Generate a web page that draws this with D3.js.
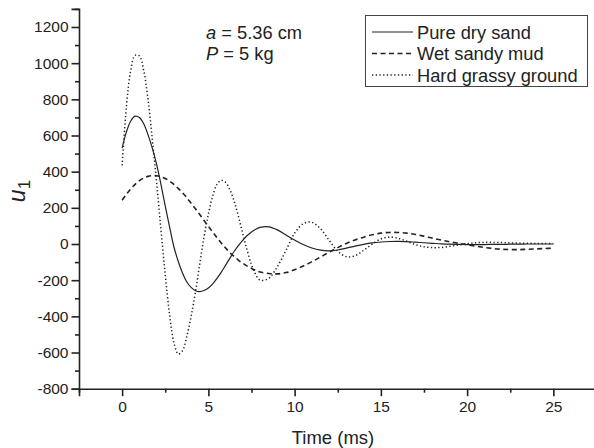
<!DOCTYPE html>
<html><head><meta charset="utf-8">
<script src="https://cdn.jsdelivr.net/npm/d3@7/dist/d3.min.js"></script>
<style>
body{margin:0;background:#fff;}
svg{display:block;font-family:"Liberation Sans",Arial,sans-serif;}
</style></head>
<body><svg id="c" width="594" height="448"></svg>
<script>
const time = [0,0.25,0.5,0.75,1,1.25,1.5,1.75,2,2.25,2.5,2.75,3,3.25,3.5,3.75,4,4.25,4.5,4.75,5,5.25,5.5,5.75,6,6.25,6.5,6.75,7,7.25,7.5,7.75,8,
  8.5,9,9.5,10,10.5,11,11.5,12,12.5,13,13.5,14,14.5,15,15.5,16,16.5,17,17.5,18,18.5,19,19.5,20,20.5,21,21.5,22,22.5,23,23.5,24,24.5,25];
const pureDrySand = [530,620,680,707,700,665,605,530,440,330,210,95,-15,-95,-160,-210,-240,-258,-263,-257,-243,-220,-190,-155,-117,-78,-40,-7,22,47,67,82,92,
  95,78,50,22,-3,-22,-34,-38,-33,-23,-12,-2,6,11,14,15,13,10,7,4,1,-1,-2,-3,-3,-3,-2,-2,-1,-1,0,0,0,0];
const wetSandyMud = [242,275,305,330,350,365,374,378,377,372,362,348,330,308,283,256,225,195,163,130,98,66,35,5,-22,-48,-70,-90,-107,-122,-135,-146,-155,
  -163,-165,-158,-142,-122,-98,-72,-45,-20,3,22,38,51,60,64,64,60,53,43,32,22,12,4,-4,-12,-19,-25,-29,-31,-31,-29,-27,-25,-23];
const hardGrassyGround = [435,760,960,1043,1040,960,800,580,340,80,-170,-390,-545,-608,-590,-510,-400,-265,-110,40,165,265,330,352,340,300,235,150,55,-35,-115,-170,-200,
  -190,-125,-35,60,112,120,85,20,-40,-70,-65,-35,0,28,38,32,15,-3,-15,-20,-19,-13,-5,2,7,9,9,8,6,5,4,3,3,3];
const seriesNames = ["Pure dry sand","Wet sandy mud","Hard grassy ground"];
const xMajor = [0,5,10,15,20,25];
const xMinor = [-2.5,2.5,7.5,12.5,17.5,22.5,27.5];
const yMajor = [-800,-600,-400,-200,0,200,400,600,800,1000,1200];
const yMinor = [-700,-500,-300,-100,100,300,500,700,900,1100,1300];

const svg = d3.select("#c");
const x = d3.scaleLinear().domain([-2.5,27.5]).range([79,596.5]);
const y = d3.scaleLinear().domain([-800,1300]).range([388.7,8.9]);
const ink = "#222";
const fmt = d => String(d);

// axes
const gx = svg.append("g").attr("transform","translate(0,388.7)");
gx.call(d3.axisBottom(x).tickValues(xMajor).tickSize(7.5).tickPadding(5).tickFormat(fmt));
const gxm = svg.append("g").attr("transform","translate(0,388.7)");
gxm.call(d3.axisBottom(x).tickValues(xMinor).tickSize(4).tickFormat(""));
const gy = svg.append("g").attr("transform","translate(79,0)");
gy.call(d3.axisLeft(y).tickValues(yMajor).tickSize(7.5).tickPadding(3).tickFormat(fmt));
const gym = svg.append("g").attr("transform","translate(79,0)");
gym.call(d3.axisLeft(y).tickValues(yMinor).tickSize(4).tickFormat(""));
[gx,gxm,gy,gym].forEach(g=>{
  g.selectAll("path.domain").attr("stroke",ink).attr("stroke-width",1.6);
  g.selectAll("line").attr("stroke",ink).attr("stroke-width",1.6);
  g.selectAll("text").attr("fill",ink).style("font-size","15.5px").style("font-family","'Liberation Sans',Arial,sans-serif");
});
gxm.select("path.domain").remove();
gym.select("path.domain").remove();

// lines
const styles = [
  {dash:null, w:1.2},
  {dash:"5,3.5", w:1.6},
  {dash:"1.3,2.4", w:1.5}
];
const allSeries = [pureDrySand, wetSandyMud, hardGrassyGround];
const line = d3.line().x((d,i)=>x(time[i])).y(d=>y(d)).curve(d3.curveCatmullRom.alpha(0.5));
allSeries.forEach((s,k)=>{
  svg.append("path").datum(s).attr("d",line).attr("fill","none")
    .attr("stroke",ink).attr("stroke-width",styles[k].w)
    .attr("stroke-dasharray",styles[k].dash);
});

// legend
const lg = svg.append("g");
lg.append("rect").attr("x",365.5).attr("y",15.5).attr("width",222).attr("height",71)
  .attr("fill","#fff").attr("stroke","#444").attr("stroke-width",1);
seriesNames.forEach((n,k)=>{
  const cy = 32 + k*21.5;
  lg.append("line").attr("x1",372).attr("x2",413).attr("y1",cy).attr("y2",cy)
    .attr("stroke",ink).attr("stroke-width",styles[k].w).attr("stroke-dasharray",styles[k].dash);
  lg.append("text").attr("x",417).attr("y",cy+6.5).attr("fill",ink)
    .style("font-size","18.3px").text(n);
});

// annotation
const ann = svg.append("g").attr("fill",ink).style("font-size","18.3px");
const t1 = ann.append("text").attr("x",206).attr("y",38.5);
t1.append("tspan").style("font-style","italic").text("a");
t1.append("tspan").text(" = 5.36 cm");
const t2 = ann.append("text").attr("x",206).attr("y",60);
t2.append("tspan").style("font-style","italic").text("P");
t2.append("tspan").text(" = 5 kg");

// axis titles
svg.append("text").attr("x",333).attr("y",444).attr("text-anchor","middle")
  .attr("fill",ink).style("font-size","18.5px").text("Time (ms)");
const yl = svg.append("text").attr("transform","translate(25,191) rotate(-90)")
  .attr("text-anchor","middle").attr("fill",ink);
yl.append("tspan").style("font-style","italic").style("font-size","23px").text("u");
yl.append("tspan").attr("dy",5).style("font-size","17px").text("1");
</script></body></html>
